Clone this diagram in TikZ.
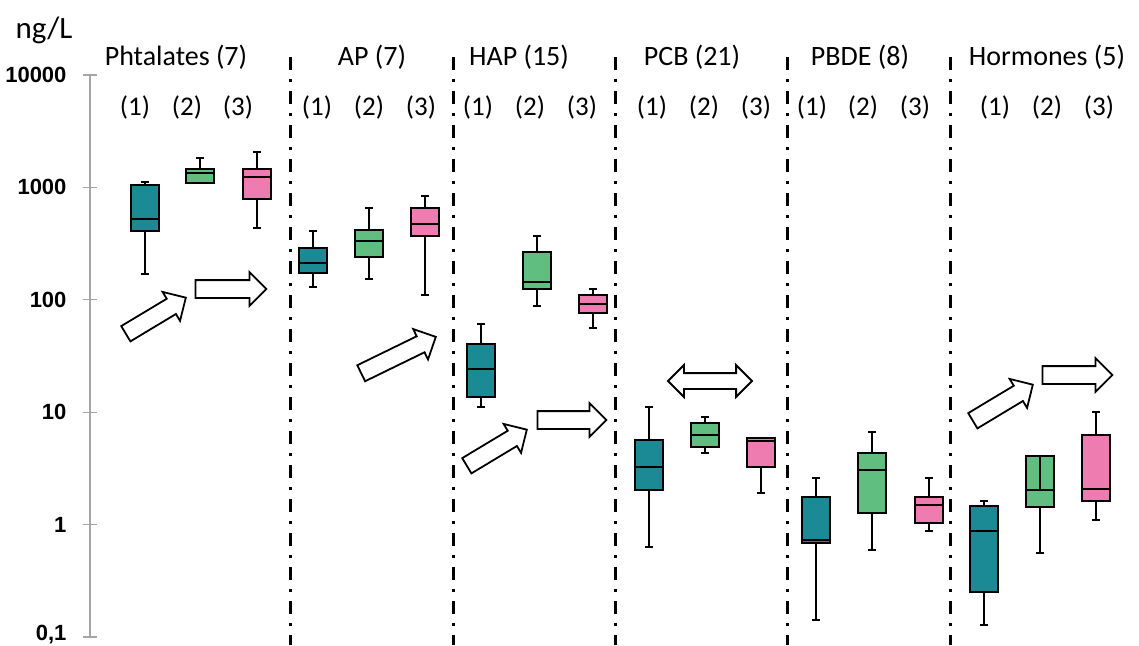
\documentclass[tikz,border=0pt]{standalone}
\usepackage{fontspec}
\setmainfont{Carlito}
\setsansfont{Liberation Sans}
\usetikzlibrary{shapes.arrows}

\definecolor{tealbox}{RGB}{27,138,148}
\definecolor{greenbox}{RGB}{96,191,128}
\definecolor{pinkbox}{RGB}{239,124,176}
\definecolor{axisgray}{RGB}{165,165,165}

% name, x, whisker top, box top, median, box bottom, whisker bottom, colour
\newcommand{\bplot}[8]{%
  \draw[whisk] (#2,#3) -- (#2,#7);
  \draw[whisk] (#2-4,#3) -- (#2+4,#3);
  \draw[whisk] (#2-4,#7) -- (#2+4,#7);
  \node[bx,fill=#8,minimum height={#6-#4}] (#1) at (#2,{(#4+#6)/2}) {};
  \draw[whisk] (#1.west |- 0,#5) -- (#1.east |- 0,#5);
}

\begin{document}
\begin{tikzpicture}[x=1pt,y=-1pt,
    bx/.style={draw=black,line width=1.6pt,rectangle,inner sep=0pt,minimum width=28pt},
    whisk/.style={line width=1.6pt},
    sepline/.style={line width=3pt,dash pattern=on 13pt off 9pt on 3pt off 9pt},
    ticklab/.style={anchor=east,font=\sffamily\bfseries\fontsize{22}{25}\selectfont},
    title/.style={anchor=base,font=\fontsize{28}{32}\selectfont},
    sub/.style={anchor=base,font=\fontsize{27}{31}\selectfont},
    blockarrow/.style={single arrow,draw,line width=1.8pt,fill=white,inner sep=0pt,
      inner ysep=8pt,single arrow head extend=8pt},
    dblarrow/.style={double arrow,draw,line width=1.8pt,fill=white,inner sep=0pt,
      inner ysep=7pt,double arrow head extend=8pt}]
    \useasboundingbox (0,0) rectangle (1139,645);

    % axis
    \draw[axisgray,line width=1.2pt] (90,75) -- (90,637);
    \draw[axisgray,line width=1.2pt] (83,75) -- (97,75);
    \draw[axisgray,line width=1.2pt] (83,187.4) -- (97,187.4);
    \draw[axisgray,line width=1.2pt] (83,299.8) -- (97,299.8);
    \draw[axisgray,line width=1.2pt] (83,412.2) -- (97,412.2);
    \draw[axisgray,line width=1.2pt] (83,524.6) -- (97,524.6);
    \draw[axisgray,line width=1.2pt] (83,637) -- (97,637);
    \node[ticklab] (t4) at (70,75) {10000};
    \node[ticklab] (t3) at (70,187.4) {1000};
    \node[ticklab] (t2) at (70,299.8) {100};
    \node[ticklab] (t1) at (70,412.2) {10};
    \node[ticklab] (t0) at (70,524.6) {1};
    \node[ticklab] (tm) at (70,635) {0,1};
    \node[anchor=base,font=\fontsize{31}{35}\selectfont] (unit) at (44,38) {ng/L};

    % separators
    \draw[sepline] (290,57) -- (290,645);
    \draw[sepline] (453,57) -- (453,645);
    \draw[sepline] (615,57) -- (615,645);
    \draw[sepline] (787,57) -- (787,645);
    \draw[sepline] (950,57) -- (950,645);

    % group titles
    \node[title] (pht) at (176,65) {Phtalates (7)};
    \node[title] (ap) at (372,65) {AP (7)};
    \node[title] (hap) at (519,65) {HAP (15)};
    \node[title] (pcb) at (692,65) {PCB (21)};
    \node[title] (pbde) at (860,65) {PBDE (8)};
    \node[title] (hor) at (1047,65) {Hormones (5)};

    \node[sub] (pht-s1) at (135,115) {(1)};
    \node[sub] (pht-s2) at (187,115) {(2)};
    \node[sub] (pht-s3) at (238,115) {(3)};
    \node[sub] (ap-s1) at (317,115) {(1)};
    \node[sub] (ap-s2) at (369,115) {(2)};
    \node[sub] (ap-s3) at (421,115) {(3)};
    \node[sub] (hap-s1) at (478,115) {(1)};
    \node[sub] (hap-s2) at (530,115) {(2)};
    \node[sub] (hap-s3) at (582,115) {(3)};
    \node[sub] (pcb-s1) at (652,115) {(1)};
    \node[sub] (pcb-s2) at (704,115) {(2)};
    \node[sub] (pcb-s3) at (756,115) {(3)};
    \node[sub] (pbde-s1) at (812,115) {(1)};
    \node[sub] (pbde-s2) at (863,115) {(2)};
    \node[sub] (pbde-s3) at (915,115) {(3)};
    \node[sub] (hor-s1) at (995,115) {(1)};
    \node[sub] (hor-s2) at (1047,115) {(2)};
    \node[sub] (hor-s3) at (1099,115) {(3)};

    % box plots
    \bplot{pht1}{145}{182}{185}{219}{231}{274}{tealbox}
    \bplot{pht2}{200}{158}{169}{173}{183}{183}{greenbox}
    \bplot{pht3}{257}{152}{169}{177}{199}{228}{pinkbox}
    \bplot{ap1}{313}{231}{248}{263}{273}{287}{tealbox}
    \bplot{ap2}{369}{208}{230}{241}{257}{279}{greenbox}
    \bplot{ap3}{425}{196}{208}{224}{236}{295}{pinkbox}
    \bplot{hap1}{481}{324}{344}{369}{397}{407}{tealbox}
    \bplot{hap2}{537}{236}{252}{282}{289}{306}{greenbox}
    \bplot{hap3}{593}{289}{295}{304}{313}{328}{pinkbox}
    \bplot{pcb1}{649}{407}{440}{467}{490}{547}{tealbox}
    \bplot{pcb2}{705}{417}{423}{435}{447}{453}{greenbox}
    \bplot{pcb3}{761}{438}{438}{441}{467}{493}{pinkbox}
    \bplot{pbde1}{816}{478}{497}{540}{543}{620}{tealbox}
    \bplot{pbde2}{872}{432}{453}{470}{513}{550}{greenbox}
    \bplot{pbde3}{929}{478}{497}{505}{523}{531}{pinkbox}
    \bplot{hor1}{984}{501}{506}{531}{592}{625}{tealbox}
    \bplot{hor2}{1040}{456}{456}{490}{507}{553}{greenbox}
    \bplot{hor3}{1096}{412}{435}{489}{501}{520}{pinkbox}
    \draw[whisk] (hor2.north) -- (1040,490);

    % trend arrows
    \node[blockarrow,minimum height=70pt,rotate=31] (pht-up) at (152,318) {};
    \node[blockarrow,minimum height=71pt] (pht-flat) at (226.5,289) {};
    \node[blockarrow,minimum height=83pt,rotate=26] (ap-up) at (394.5,357) {};
    \node[blockarrow,minimum height=70pt,rotate=31] (hap-up) at (493,450) {};
    \node[blockarrow,minimum height=69pt] (hap-flat) at (567.5,420) {};
    \node[dblarrow,minimum height=84pt] (pcb-both) at (710,381) {};
    \node[blockarrow,minimum height=70pt,rotate=31] (hor-up) at (999,405) {};
    \node[blockarrow,minimum height=70pt] (hor-flat) at (1073,375) {};
\end{tikzpicture}
\end{document}
